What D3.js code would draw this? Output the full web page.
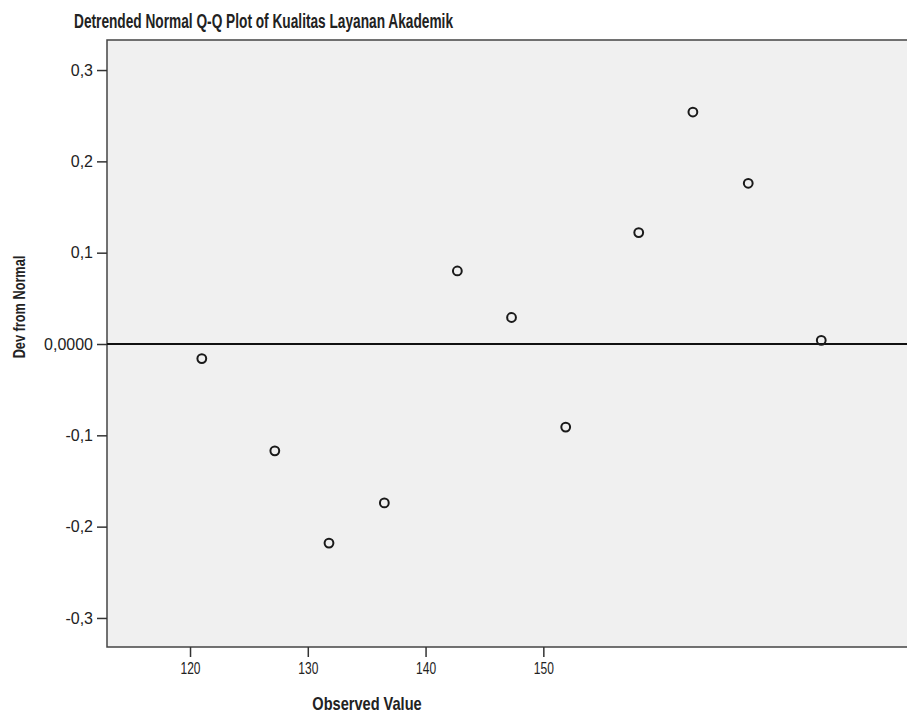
<!DOCTYPE html>
<html>
<head>
<meta charset="utf-8">
<script src="https://cdn.jsdelivr.net/npm/d3@7"></script>
<style>
  body { margin: 0; background: #fff; }
  text { font-family: "Liberation Sans", Arial, sans-serif; fill: #222; }
</style>
</head>
<body>
<div class="chart"></div>
<script>
var observed = [121.0, 127.2, 131.8, 136.5, 142.7, 147.3, 151.9, 158.1, 162.7, 167.4, 173.6];
var devNormal = [-0.016, -0.117, -0.218, -0.174, 0.080, 0.029, -0.091, 0.122, 0.254, 0.176, 0.004];
var xTicks = [120, 130, 140, 150];
var yTicks = [-0.3, -0.2, -0.1, 0, 0.1, 0.2, 0.3];
var yTickLabels = ["-0,3", "-0,2", "-0,1", "0,0000", "0,1", "0,2", "0,3"];

var margin = {top: 40, right: -2, bottom: 69, left: 107},
    width = 907 - margin.left - margin.right,
    height = 716 - margin.top - margin.bottom;

var svg = d3.select(".chart")
    .append("svg")
    .attr("width", 907)
    .attr("height", 716)
    .append("g")
    .attr("transform", "translate(" + margin.left + "," + margin.top + ")");

var x = d3.scaleLinear().domain([112.95, 181.05]).range([0, width]);
var y = d3.scaleLinear().domain([-0.3318, 0.3329]).range([height, 0]);

// plot background
svg.append("rect")
    .attr("width", width)
    .attr("height", height)
    .attr("fill", "#f0f0f0")
    .attr("stroke", "#444")
    .attr("stroke-width", 1.5);

var xAxis = d3.axisBottom(x).tickValues(xTicks).tickSize(10).tickPadding(6)
    .tickFormat(d3.format("d"));
var yAxis = d3.axisLeft(y).tickValues(yTicks).tickSize(10).tickPadding(4)
    .tickFormat(function(d, i) { return yTickLabels[i]; });

var gx = svg.append("g")
    .attr("transform", "translate(0," + height + ")")
    .call(xAxis);
var gy = svg.append("g").call(yAxis);

[gx, gy].forEach(function(g) {
    g.select(".domain").remove();
    g.selectAll(".tick line").attr("stroke", "#333").attr("stroke-width", 1.5);
    g.selectAll(".tick text").style("fill", "#222");
});
gy.selectAll(".tick text").style("font-size", "16px");
// x labels are narrow in the original
gx.selectAll(".tick text").style("font-size", "16px").attr("transform", "scale(0.75,1)");

// zero reference line
svg.append("line")
    .attr("x1", 0)
    .attr("x2", width)
    .attr("y1", y(0))
    .attr("y2", y(0))
    .attr("stroke", "#111")
    .attr("stroke-width", 1.8);

svg.selectAll(".dot")
    .data(observed)
  .enter().append("circle")
    .attr("class", "dot")
    .attr("r", 4.4)
    .attr("cx", function(d) { return x(d); })
    .attr("cy", function(d, i) { return y(devNormal[i]); })
    .attr("fill", "none")
    .attr("stroke", "#1a1a1a")
    .attr("stroke-width", 2);

// titles
svg.append("text")
    .attr("transform", "translate(" + (74 - margin.left) + "," + (28 - margin.top) + ") scale(0.685,1)")
    .style("font-size", "20px")
    .style("font-weight", "bold")
    .text("Detrended Normal Q-Q Plot of Kualitas Layanan Akademik");

svg.append("text")
    .attr("transform", "translate(" + (367 - margin.left) + "," + (710 - margin.top) + ") scale(0.81,1)")
    .attr("text-anchor", "middle")
    .style("font-size", "18px")
    .style("font-weight", "bold")
    .text("Observed Value");

svg.append("text")
    .attr("transform", "translate(" + (25 - margin.left) + "," + (307 - margin.top) + ") rotate(-90) scale(0.75,1)")
    .attr("text-anchor", "middle")
    .style("font-size", "17px")
    .style("font-weight", "bold")
    .text("Dev from Normal");
</script>
</body>
</html>
